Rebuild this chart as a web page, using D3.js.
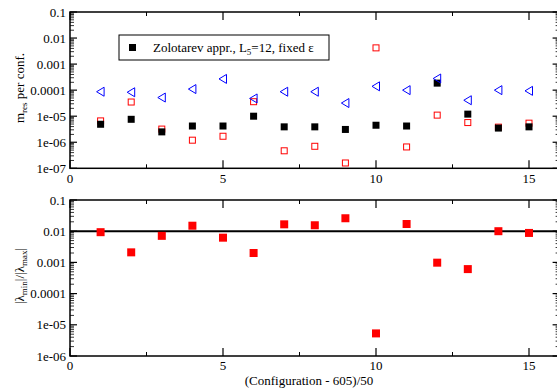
<!DOCTYPE html>
<html>
<head>
<meta charset="utf-8">
<script src="https://cdn.jsdelivr.net/npm/d3@7"></script>
<style>
  body { margin: 0; background: #fff; }
</style>
</head>
<body>
<script>
// configurations, (conf - 605)/50
const configs = [1, 2, 3, 4, 5, 6, 7, 8, 9, 10, 11, 12, 13, 14, 15];

// top panel: m_res per conf.
const mresZolo = [4.9e-6, 7.6e-6, 2.5e-6, 4.2e-6, 4.2e-6, 1.0e-5, 3.9e-6, 3.9e-6, 3.1e-6, 4.5e-6, 4.2e-6, 1.86e-4, 1.2e-5, 3.5e-6, 3.9e-6];
const mresRed = [6.6e-6, 3.5e-5, 3.2e-6, 1.2e-6, 1.7e-6, 3.6e-5, 4.7e-7, 7.0e-7, 1.6e-7, 4.2e-3, 6.6e-7, 1.1e-5, 5.7e-6, 3.8e-6, 5.4e-6];
const mresBlue = [8.7e-5, 8.3e-5, 5.2e-5, 1.1e-4, 2.7e-4, 4.8e-5, 8.7e-5, 8.7e-5, 3.2e-5, 1.4e-4, 1.0e-4, 2.8e-4, 4.1e-5, 1.0e-4, 9.4e-5];

// bottom panel: |lambda_min|/|lambda_max|
const lamRatio = [9.3e-3, 2.1e-3, 7.1e-3, 1.5e-2, 6.2e-3, 2.0e-3, 1.66e-2, 1.55e-2, 2.6e-2, 5.3e-6, 1.7e-2, 9.8e-4, 6.1e-4, 1.0e-2, 8.8e-3];
const lamLine = 0.01;

const xTicks = [0, 5, 10, 15];
const xMinor = [2.5, 7.5, 12.5];
const topTicks = [1e-7, 1e-6, 1e-5, 1e-4, 1e-3, 1e-2, 1e-1];
const topLabels = ["1e-07", "1e-06", "1e-05", "0.0001", "0.001", "0.01", "0.1"];
const botTicks = [1e-6, 1e-5, 1e-4, 1e-3, 1e-2, 1e-1];
const botLabels = ["1e-06", "1e-05", "0.0001", "0.001", "0.01", "0.1"];

const W = 557, H = 388;
const svg = d3.select("body").append("svg")
  .attr("width", W).attr("height", H)
  .attr("font-family", "'Liberation Serif', 'DejaVu Serif', serif");

const x = d3.scaleLinear().domain([0, 16]).range([70, 559.6]);
const yTop = d3.scaleLog().domain([1e-7, 0.1]).range([168.3, 12]);
const yBot = d3.scaleLog().domain([1e-6, 0.1]).range([356, 200]);

function minorTicks(dom) {
  const out = [];
  const lo = Math.round(Math.log10(dom[0])), hi = Math.round(Math.log10(dom[1]));
  for (let e = lo; e < hi; e++) {
    for (let k = 2; k <= 9; k++) out.push(k * Math.pow(10, e));
  }
  return out;
}

function panel(y, ticks, labels, labelBase) {
  const g = svg.append("g");
  const [y0, y1] = y.range();
  const [x0, x1] = x.range();

  // frame
  g.append("rect")
    .attr("x", x0).attr("y", y1)
    .attr("width", x1 - x0).attr("height", y0 - y1)
    .attr("fill", "none").attr("stroke", "#000").attr("stroke-width", 1.5);

  // x ticks, top and bottom, pointing inward
  xTicks.forEach(t => {
    g.append("line").attr("x1", x(t)).attr("x2", x(t)).attr("y1", y0).attr("y2", y0 - 8)
      .attr("stroke", "#000").attr("stroke-width", 1.2);
    g.append("line").attr("x1", x(t)).attr("x2", x(t)).attr("y1", y1).attr("y2", y1 + 8)
      .attr("stroke", "#000").attr("stroke-width", 1.2);
  });
  xMinor.forEach(t => {
    g.append("line").attr("x1", x(t)).attr("x2", x(t)).attr("y1", y0).attr("y2", y0 - 4)
      .attr("stroke", "#000").attr("stroke-width", 1);
    g.append("line").attr("x1", x(t)).attr("x2", x(t)).attr("y1", y1).attr("y2", y1 + 4)
      .attr("stroke", "#000").attr("stroke-width", 1);
  });
  g.selectAll(".xl").data(xTicks).enter().append("text")
    .attr("x", d => x(d)).attr("y", labelBase)
    .attr("text-anchor", "middle").attr("font-size", 13)
    .text(d => d);

  // y ticks, left and right
  ticks.forEach(t => {
    g.append("line").attr("x1", x0).attr("x2", x0 + 7).attr("y1", y(t)).attr("y2", y(t))
      .attr("stroke", "#000").attr("stroke-width", 1.2);
    g.append("line").attr("x1", x1).attr("x2", x1 - 7).attr("y1", y(t)).attr("y2", y(t))
      .attr("stroke", "#000").attr("stroke-width", 1.2);
  });
  minorTicks(y.domain()).forEach(t => {
    g.append("line").attr("x1", x0).attr("x2", x0 + 4).attr("y1", y(t)).attr("y2", y(t))
      .attr("stroke", "#000").attr("stroke-width", 0.8);
    g.append("line").attr("x1", x1).attr("x2", x1 - 4).attr("y1", y(t)).attr("y2", y(t))
      .attr("stroke", "#000").attr("stroke-width", 0.8);
  });
  g.selectAll(".yl").data(ticks).enter().append("text")
    .attr("x", 66).attr("y", d => y(d) + 4.5)
    .attr("text-anchor", "end").attr("font-size", 13)
    .text((d, i) => labels[i]);
  return g;
}

const gTop = panel(yTop, topTicks, topLabels, 183);
const gBot = panel(yBot, botTicks, botLabels, 370);

// top panel markers
const s = 7;
gTop.selectAll(".red").data(configs).enter().append("rect")
  .attr("x", (d, i) => x(d) - s / 2 + 0.5).attr("y", (d, i) => yTop(mresRed[i]) - s / 2 + 0.5)
  .attr("width", s - 1).attr("height", s - 1)
  .attr("fill", "none").attr("stroke", "#ff0000").attr("stroke-width", 1);

gTop.selectAll(".blk").data(configs).enter().append("rect")
  .attr("x", d => x(d) - s / 2).attr("y", (d, i) => yTop(mresZolo[i]) - s / 2)
  .attr("width", s).attr("height", s)
  .attr("fill", "#000");

gTop.selectAll(".blue").data(configs).enter().append("path")
  .attr("d", (d, i) => {
    const cx = x(d), cy = yTop(mresBlue[i]);
    return `M${cx - 4},${cy} L${cx + 3.5},${cy - 4.5} L${cx + 3.5},${cy + 4.5} Z`;
  })
  .attr("fill", "none").attr("stroke", "#0000ff").attr("stroke-width", 1);

// legend
gTop.append("rect")
  .attr("x", 119).attr("y", 35).attr("width", 210).attr("height", 25)
  .attr("fill", "#fff").attr("stroke", "#000").attr("stroke-width", 1);
gTop.append("rect")
  .attr("x", 129).attr("y", 44).attr("width", 7).attr("height", 7).attr("fill", "#000");
const leg = gTop.append("text").attr("x", 153).attr("y", 51.5).attr("font-size", 13);
leg.append("tspan").text("Zolotarev appr., L");
leg.append("tspan").attr("font-size", 9).attr("dy", 3).text("5");
leg.append("tspan").attr("dy", -3).text("=12, fixed \u03b5");

// bottom panel
gBot.append("line")
  .attr("x1", x.range()[0]).attr("x2", x.range()[1])
  .attr("y1", yBot(lamLine)).attr("y2", yBot(lamLine))
  .attr("stroke", "#000").attr("stroke-width", 2);

const sb = 8;
gBot.selectAll(".lam").data(configs).enter().append("rect")
  .attr("x", d => x(d) - sb / 2).attr("y", (d, i) => yBot(lamRatio[i]) - sb / 2)
  .attr("width", sb).attr("height", sb)
  .attr("fill", "#ff0000");

// axis titles
const t1 = svg.append("text")
  .attr("transform", "translate(24,88) rotate(-90)")
  .attr("text-anchor", "middle").attr("font-size", 13);
t1.append("tspan").text("m");
t1.append("tspan").attr("font-size", 9).attr("dy", 3).text("res");
t1.append("tspan").attr("dy", -3).text(" per conf.");

const t2 = svg.append("text")
  .attr("transform", "translate(24,276) rotate(-90)")
  .attr("text-anchor", "middle").attr("font-size", 13);
t2.append("tspan").text("|\u03bb");
t2.append("tspan").attr("font-size", 9).attr("dy", 3).text("min");
t2.append("tspan").attr("dy", -3).text("|/|\u03bb");
t2.append("tspan").attr("font-size", 9).attr("dy", 3).text("max");
t2.append("tspan").attr("dy", -3).text("|");

svg.append("text")
  .attr("x", 309).attr("y", 385)
  .attr("text-anchor", "middle").attr("font-size", 13)
  .text("(Configuration - 605)/50");
</script>
</body>
</html>
